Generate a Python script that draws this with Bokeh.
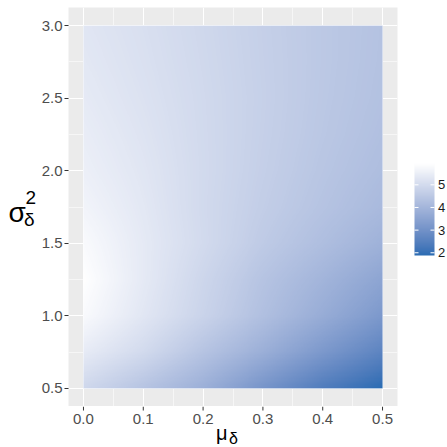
import numpy as np
from bokeh.plotting import figure
from bokeh.models import Range1d, FixedTicker, LinearColorMapper, PrintfTickFormatter
from bokeh.layouts import row, column
from bokeh.embed import file_html
from bokeh.resources import INLINE
from bokeh.core.properties import value

# ---------------- data ----------------
mu_vals = [0.0, 0.1, 0.2, 0.3, 0.4, 0.5]
sigma2_vals = [0.5, 0.75, 1.0, 1.25, 1.5, 1.75, 2.0, 2.25, 2.5, 2.75, 3.0]
# one row per sigma2 value (bottom to top), one column per mu value
z_s050 = [4.91, 4.39, 3.84, 3.10, 2.40, 1.88]
z_s075 = [5.42, 4.98, 4.39, 3.84, 3.21, 2.62]
z_s100 = [5.80, 5.30, 4.80, 4.28, 3.76, 3.21]
z_s125 = [5.92, 5.38, 4.87, 4.39, 3.98, 3.54]
z_s150 = [5.80, 5.38, 4.98, 4.57, 4.24, 3.90]
z_s175 = [5.64, 5.33, 4.96, 4.65, 4.38, 4.12]
z_s200 = [5.53, 5.28, 4.97, 4.69, 4.44, 4.22]
z_s225 = [5.46, 5.23, 4.96, 4.71, 4.48, 4.28]
z_s250 = [5.39, 5.18, 4.95, 4.72, 4.50, 4.32]
z_s275 = [5.33, 5.14, 4.93, 4.71, 4.51, 4.34]
z_s300 = [5.28, 5.11, 4.91, 4.70, 4.51, 4.35]
z_rows = [z_s050, z_s075, z_s100, z_s125, z_s150, z_s175,
          z_s200, z_s225, z_s250, z_s275, z_s300]

x_ticks = [0.0, 0.1, 0.2, 0.3, 0.4, 0.5]
x_tick_labels = ["0.0", "0.1", "0.2", "0.3", "0.4", "0.5"]
x_minor = [0.05, 0.15, 0.25, 0.35, 0.45]
y_ticks = [0.5, 1.0, 1.5, 2.0, 2.5, 3.0]
y_minor = [0.75, 1.25, 1.75, 2.25, 2.75]
legend_ticks = [2, 3, 4, 5]
legend_labels = ["2", "3", "4", "5"]
fill_min, fill_max = 1.88, 5.94
low_color, high_color = "#2A6CB3", "#FFFFFF"

FONT = "Liberation Sans"
TICK_COLOR = "#333333"
LABEL_COLOR = "#4D4D4D"
TICK_FONT_SIZE = "15px"

# ---------------- colour ramp (Lab interpolation as in ggplot2) ----------------
WHITE = np.array([0.95047, 1.0, 1.08883])
M = np.array([[0.4124, 0.3576, 0.1805], [0.2126, 0.7152, 0.0722], [0.0193, 0.1192, 0.9505]])
Minv = np.linalg.inv(M)

def hex_to_lab(h):
    rgb = np.array([int(h[i:i + 2], 16) / 255 for i in (1, 3, 5)])
    lin = np.where(rgb <= 0.04045, rgb / 12.92, ((rgb + 0.055) / 1.055) ** 2.4)
    xyz = M @ lin / WHITE
    f = np.where(xyz > 216 / 24389, np.cbrt(xyz), (24389 / 27 * xyz + 16) / 116)
    return np.array([116 * f[1] - 16, 500 * (f[0] - f[1]), 200 * (f[1] - f[2])])

def lab_to_hex(lab):
    L, a, b = lab
    fy = (L + 16) / 116
    f = np.array([fy + a / 500, fy, fy - b / 200])
    xyz = np.where(f ** 3 > 216 / 24389, f ** 3, (116 * f - 16) / (24389 / 27)) * WHITE
    lin = np.clip(Minv @ xyz, 0, 1)
    rgb = np.where(lin <= 0.0031308, 12.92 * lin, 1.055 * lin ** (1 / 2.4) - 0.055)
    rgb = np.clip(np.round(rgb * 255), 0, 255).astype(int)
    return "#%02X%02X%02X" % tuple(rgb)

lab_lo, lab_hi = hex_to_lab(low_color), hex_to_lab(high_color)
palette = [lab_to_hex(lab_lo + (lab_hi - lab_lo) * t) for t in np.linspace(0, 1, 256)]
mapper = LinearColorMapper(palette=palette, low=fill_min, high=fill_max)

# ---------------- raster (display resampling of the read grid) ----------------
Z = np.array(z_rows)
nx, ny = 300, 300
xf = np.linspace(mu_vals[0], mu_vals[-1], nx)
yf = np.linspace(sigma2_vals[0], sigma2_vals[-1], ny)
tmp = np.array([np.interp(xf, mu_vals, r) for r in Z])
img = np.array([np.interp(yf, sigma2_vals, tmp[:, j]) for j in range(nx)]).T

# ---------------- page geometry (pixels) ----------------
W = H = 447
left_w, cb_w = 36, 42
main_w = W - left_w - cb_w          # 369
border_l, border_r = 32, 8          # frame spans page x 68 .. 397
main_h = 406                        # frame spans page y 7 .. 406
xlab_h = H - main_h

# ---------------- main panel ----------------
x_pad = 0.05 * (mu_vals[-1] - mu_vals[0])
y_pad = 0.05 * (sigma2_vals[-1] - sigma2_vals[0])
p = figure(width=main_w, height=main_h,
           x_range=Range1d(mu_vals[0] - x_pad, mu_vals[-1] + x_pad),
           y_range=Range1d(sigma2_vals[0] - y_pad, sigma2_vals[-1] + y_pad),
           x_axis_location=None,
           output_backend="svg", toolbar_location=None,
           min_border_left=border_l, min_border_right=border_r, min_border_top=7, min_border_bottom=0)
p.background_fill_color = "#EBEBEB"
p.border_fill_color = "white"
p.outline_line_color = None

p.image(image=[img], x=mu_vals[0], y=sigma2_vals[0],
        dw=mu_vals[-1] - mu_vals[0], dh=sigma2_vals[-1] - sigma2_vals[0],
        color_mapper=mapper)

p.xgrid.ticker = FixedTicker(ticks=x_ticks, minor_ticks=x_minor)
p.ygrid.ticker = FixedTicker(ticks=y_ticks, minor_ticks=y_minor)
for g in (p.xgrid, p.ygrid):
    g.grid_line_color = "white"
    g.grid_line_width = 1.1
    g.minor_grid_line_color = "white"
    g.minor_grid_line_width = 0.55
    g.level = "underlay"

ax = p.yaxis[0]
ax.ticker = FixedTicker(ticks=y_ticks)
ax.formatter = PrintfTickFormatter(format="%.1f")
ax.axis_line_color = None
ax.major_tick_line_color = TICK_COLOR
ax.major_tick_line_width = 1
ax.major_tick_out = 4
ax.major_tick_in = 0
ax.minor_tick_line_color = None
ax.major_label_text_color = LABEL_COLOR
ax.major_label_text_font = FONT
ax.major_label_text_font_size = TICK_FONT_SIZE
ax.major_label_standoff = 2

def blank_fig(w, h, xr, yr, **kw):
    opts = dict(min_border=0)
    opts.update(kw)
    f = figure(width=w, height=h, x_range=xr, y_range=yr, output_backend="svg",
               toolbar_location=None, x_axis_type=None, y_axis_type=None, **opts)
    f.title = None
    f.grid.visible = False
    f.outline_line_color = None
    f.background_fill_color = "white"
    f.border_fill_color = "white"
    return f

def piece(f, x, y, txt, size, **kw):
    f.text(x=[x], y=[y], text=[txt], text_font=value(FONT), text_font_size=size,
           text_color="black", text_baseline="middle", text_align="left", **kw)

# ---------------- y-axis title: sigma^2_delta ----------------
ylab = blank_fig(left_w, H, Range1d(0, left_w), Range1d(H, 0))
piece(ylab, 8, 212, "σ", "28px")
piece(ylab, 25, 196.5, "2", "19px")
piece(ylab, 23.5, 218.5, "δ", "19px")

# ---------------- strip below: x axis (ticks, labels) + title mu_delta ----------------
xlab = blank_fig(main_w, xlab_h, p.x_range, Range1d(H, main_h),
                 min_border_left=border_l, min_border_right=border_r)
xlab.extra_x_ranges = {"px": Range1d(left_w + border_l, left_w + main_w - border_r)}
nt = len(x_ticks)
xlab.segment(x0=x_ticks, x1=x_ticks, y0=[main_h] * nt, y1=[main_h + 4] * nt,
             line_color=TICK_COLOR, line_width=1)
xlab.text(x=x_ticks, y=[418] * nt, text=x_tick_labels, text_font=value(FONT),
          text_font_size=TICK_FONT_SIZE, text_color=LABEL_COLOR, text_baseline="middle", text_align="center")
piece(xlab, 215.5, 432.5, "μ", "20px", x_range_name="px")
piece(xlab, 228.5, 438, "δ", "16px", x_range_name="px")

# ---------------- colour bar ----------------
cb_x0 = left_w + main_w            # 405
bar_top_px, bar_bot_px = 163, 255
scale = (bar_bot_px - bar_top_px) / (fill_max - fill_min)
cb = blank_fig(cb_w, H, Range1d(cb_x0, cb_x0 + cb_w),
               Range1d(fill_min - (H - bar_bot_px) / scale, fill_max + bar_top_px / scale))
bar_vals = np.linspace(fill_min, fill_max, 256).reshape(256, 1)
bx0, bx1 = 414, 434
cb.image(image=[bar_vals], x=bx0, y=fill_min, dw=bx1 - bx0, dh=fill_max - fill_min, color_mapper=mapper)
n = len(legend_ticks)
cb.segment(x0=[bx0] * n, x1=[bx0 + 4] * n, y0=legend_ticks, y1=legend_ticks, line_color="white", line_width=1)
cb.segment(x0=[bx1 - 4] * n, x1=[bx1] * n, y0=legend_ticks, y1=legend_ticks, line_color="white", line_width=1)
cb.text(x=[bx1 + 3.5] * n, y=legend_ticks, text=legend_labels, text_baseline="middle", text_align="left",
        text_font=value(FONT), text_font_size="13px", text_color="#1A1A1A")

layout = row(ylab, column(p, xlab), cb)
open("out.html", "w").write(file_html(layout, INLINE))
